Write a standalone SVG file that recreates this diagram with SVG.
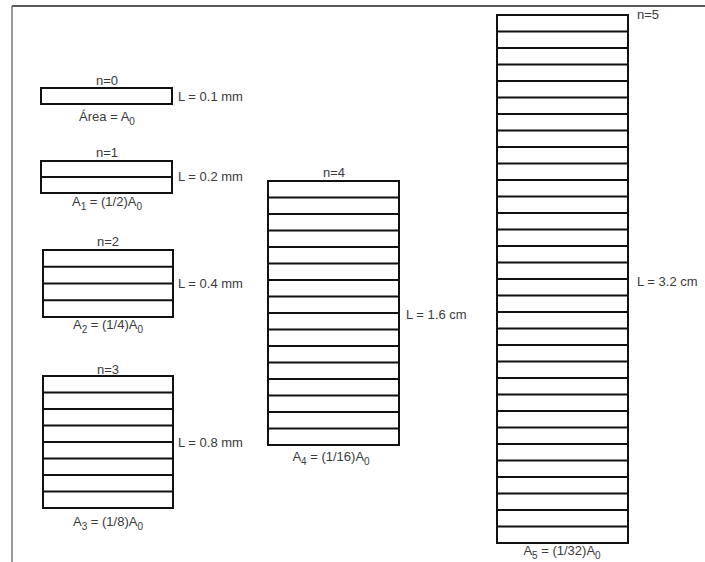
<svg xmlns="http://www.w3.org/2000/svg" width="705" height="562" viewBox="0 0 705 562">
<style>
.box{fill:#fff;stroke:#111;stroke-width:2}
.div{fill:none;stroke:#111;stroke-width:2}
text{font-family:"Liberation Sans",Arial,sans-serif;font-size:13px;fill:#3a3a3a}
.c{text-anchor:middle}
.s{font-size:10px}
</style>
<rect x="0" y="0" width="705" height="562" fill="#fff"/>
<g id="frame">
<line x1="12" y1="6" x2="705" y2="6" stroke="#222" stroke-width="1.5"/>
<line x1="12" y1="6" x2="12" y2="562" stroke="#777" stroke-width="1.5"/>
</g>
<g id="n0">
<rect class="box" x="41" y="88" width="131" height="16"/>
<text class="c" x="107" y="85">n=0</text>
<text x="178" y="101">L = 0.1 mm</text>
<text class="c" x="107" y="121">Área = A<tspan class="s" dy="4">0</tspan></text>
</g>
<g id="n1">
<rect class="box" x="41" y="161" width="131" height="32"/>
<path class="div" d="M41 177H172"/>
<text class="c" x="107" y="157">n=1</text>
<text x="178" y="181">L = 0.2 mm</text>
<text class="c" x="107" y="206">A<tspan class="s" dy="4">1</tspan><tspan dy="-4"> = (1/2)A</tspan><tspan class="s" dy="4">0</tspan></text>
</g>
<g id="n2">
<rect class="box" x="43" y="250" width="130" height="67"/>
<path class="div" d="M43 266.75H173M43 283.5H173M43 300.25H173"/>
<text class="c" x="108" y="246">n=2</text>
<text x="178" y="288">L = 0.4 mm</text>
<text class="c" x="108" y="329">A<tspan class="s" dy="4">2</tspan><tspan dy="-4"> = (1/4)A</tspan><tspan class="s" dy="4">0</tspan></text>
</g>
<g id="n3">
<rect class="box" x="43" y="376" width="130" height="132"/>
<path class="div" d="M43 392.5H173M43 409H173M43 425.5H173M43 442H173M43 458.5H173M43 475H173M43 491.5H173"/>
<text class="c" x="108" y="374">n=3</text>
<text x="178" y="447">L = 0.8 mm</text>
<text class="c" x="108" y="526">A<tspan class="s" dy="4">3</tspan><tspan dy="-4"> = (1/8)A</tspan><tspan class="s" dy="4">0</tspan></text>
</g>
<g id="n4">
<rect class="box" x="268" y="181" width="131" height="264"/>
<path class="div" d="M268 197.5H399M268 214H399M268 230.5H399M268 247H399M268 263.5H399M268 280H399M268 296.5H399M268 313H399M268 329.5H399M268 346H399M268 362.5H399M268 379H399M268 395.5H399M268 412H399M268 428.5H399"/>
<text class="c" x="334" y="177">n=4</text>
<text x="406" y="319">L = 1.6 cm</text>
<text class="c" x="331" y="461">A<tspan class="s" dy="4">4</tspan><tspan dy="-4"> = (1/16)A</tspan><tspan class="s" dy="4">0</tspan></text>
</g>
<g id="n5">
<rect class="box" x="497" y="15" width="131" height="528"/>
<path class="div" d="M497 31.5H628M497 48H628M497 64.5H628M497 81H628M497 97.5H628M497 114H628M497 130.5H628M497 147H628M497 163.5H628M497 180H628M497 196.5H628M497 213H628M497 229.5H628M497 246H628M497 262.5H628M497 279H628M497 295.5H628M497 312H628M497 328.5H628M497 345H628M497 361.5H628M497 378H628M497 394.5H628M497 411H628M497 427.5H628M497 444H628M497 460.5H628M497 477H628M497 493.5H628M497 510H628M497 526.5H628"/>
<text x="637" y="19">n=5</text>
<text x="637" y="286">L  = 3.2 cm</text>
<text class="c" x="562" y="555">A<tspan class="s" dy="4">5</tspan><tspan dy="-4"> = (1/32)A</tspan><tspan class="s" dy="4">0</tspan></text>
</g>
</svg>
